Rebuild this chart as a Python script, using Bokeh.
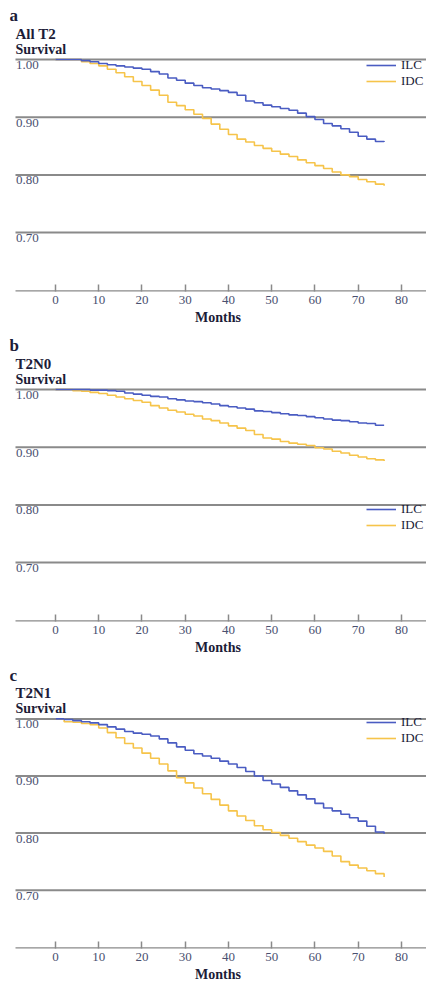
from bokeh.plotting import figure
from bokeh.layouts import column
from bokeh.models import Range1d, FixedTicker, Label, Legend, LegendItem
from bokeh.core.properties import value
from bokeh.embed import file_html
from bokeh.resources import INLINE

# ---------------- data ----------------
months = [0, 2, 4, 6, 8, 10, 12, 14, 16, 18, 20, 22, 24, 26, 28, 30, 32, 34, 36, 38,
          40, 42, 44, 46, 48, 50, 52, 54, 56, 58, 60, 62, 64, 66, 68, 70, 72, 74, 76]

a_ilc = [1.000, 1.000, 1.000, 0.998, 0.996, 0.993, 0.991, 0.989, 0.987, 0.985, 0.983,
         0.979, 0.975, 0.968, 0.964, 0.959, 0.955, 0.951, 0.949, 0.946, 0.943, 0.938,
         0.928, 0.925, 0.921, 0.918, 0.915, 0.912, 0.907, 0.901, 0.896, 0.889, 0.885,
         0.880, 0.874, 0.867, 0.862, 0.858, 0.857]
a_idc = [1.000, 1.000, 1.000, 0.996, 0.993, 0.989, 0.983, 0.977, 0.970, 0.962, 0.955,
         0.947, 0.938, 0.926, 0.920, 0.913, 0.905, 0.898, 0.888, 0.879, 0.870, 0.862,
         0.857, 0.851, 0.846, 0.841, 0.836, 0.832, 0.826, 0.821, 0.816, 0.811, 0.805,
         0.800, 0.797, 0.792, 0.788, 0.784, 0.781]

b_ilc = [1.000, 1.000, 1.000, 1.000, 0.999, 0.999, 0.998, 0.997, 0.994, 0.992, 0.990,
         0.988, 0.987, 0.984, 0.982, 0.980, 0.979, 0.977, 0.975, 0.972, 0.970, 0.968,
         0.966, 0.963, 0.962, 0.960, 0.958, 0.956, 0.955, 0.953, 0.951, 0.949, 0.947,
         0.946, 0.944, 0.942, 0.941, 0.938, 0.938]
b_idc = [1.000, 1.000, 0.998, 0.997, 0.995, 0.993, 0.990, 0.987, 0.984, 0.981, 0.978,
         0.972, 0.968, 0.964, 0.961, 0.957, 0.954, 0.949, 0.946, 0.942, 0.937, 0.933,
         0.929, 0.922, 0.916, 0.914, 0.910, 0.907, 0.905, 0.903, 0.899, 0.897, 0.893,
         0.890, 0.886, 0.883, 0.880, 0.878, 0.876]

c_ilc = [1.000, 0.999, 0.997, 0.995, 0.993, 0.990, 0.986, 0.982, 0.978, 0.975, 0.973,
         0.970, 0.965, 0.958, 0.951, 0.945, 0.939, 0.935, 0.931, 0.926, 0.921, 0.915,
         0.908, 0.900, 0.892, 0.886, 0.880, 0.874, 0.867, 0.860, 0.852, 0.844, 0.839,
         0.833, 0.827, 0.821, 0.812, 0.802, 0.799]
c_idc = [1.000, 0.995, 0.994, 0.992, 0.990, 0.984, 0.976, 0.967, 0.957, 0.949, 0.940,
         0.931, 0.921, 0.909, 0.897, 0.888, 0.879, 0.869, 0.859, 0.849, 0.839, 0.830,
         0.822, 0.813, 0.806, 0.801, 0.796, 0.791, 0.785, 0.779, 0.774, 0.768, 0.760,
         0.750, 0.744, 0.739, 0.734, 0.729, 0.723]

panel_letters = ["a", "b", "c"]
panel_titles = ["All T2", "T2N0", "T2N1"]
series_names = ["ILC", "IDC"]
x_ticks = [0, 10, 20, 30, 40, 50, 60, 70, 80]
y_ticks = [0.70, 0.80, 0.90, 1.00]
y_tick_labels = ["0.70", "0.80", "0.90", "1.00"]
x_label = "Months"
y_label = "Survival"

# ---------------- style ----------------
SERIF = "Liberation Serif"
BLUE = "#4a5cc2"
GOLD = "#f6c44a"
GRID = "#8a8a8a"
TICK_TXT = "#4a5070"
TITLE_TXT = "#1c1c38"

PX_PER_UNIT = 577.0
TOP_GAP = 59.0
FRAME_H = 291.0
LEFT = 9
X_PER_PX = 1 / 4.325
X0 = -40 * X_PER_PX - (15 - LEFT) * X_PER_PX - 0.0
X1 = 85.8
GRID_X0 = -40 * X_PER_PX  # where gridlines/axis start (15px from page edge)


def make_panel(letter, title, ilc, idc, height, legend_y):
    y_top = 1 + TOP_GAP / PX_PER_UNIT
    y_bot = 1 - (FRAME_H - TOP_GAP) / PX_PER_UNIT
    p = figure(width=426, height=height, x_range=Range1d(X0, X1),
               y_range=Range1d(y_bot, y_top), output_backend="svg",
               toolbar_location=None, min_border_left=LEFT, min_border_right=0,
               min_border_top=0, min_border_bottom=int(height - FRAME_H))
    p.outline_line_color = None
    p.background_fill_color = "white"
    p.border_fill_color = "white"

    p.yaxis.visible = False
    p.xgrid.visible = False
    p.ygrid.visible = False

    # horizontal reference lines at the y ticks, starting 15px from the page edge
    p.segment(x0=[GRID_X0] * len(y_ticks), x1=[X1] * len(y_ticks),
              y0=y_ticks, y1=y_ticks, line_color=GRID, line_width=2)
    # x axis base line
    p.segment(x0=[GRID_X0], x1=[X1], y0=[y_bot], y1=[y_bot],
              line_color=GRID, line_width=2.5)

    ax = p.xaxis[0]
    ax.ticker = FixedTicker(ticks=x_ticks)
    ax.axis_line_color = None
    ax.major_tick_in = 7
    ax.major_tick_out = 0
    ax.major_tick_line_color = GRID
    ax.major_tick_line_width = 1.5
    ax.minor_tick_line_color = None
    ax.major_label_text_font = SERIF
    ax.major_label_text_font_size = "13px"
    ax.major_label_text_color = TICK_TXT
    ax.major_label_standoff = 4
    ax.axis_label = x_label
    ax.axis_label_text_font = SERIF
    ax.axis_label_text_font_style = "bold"
    ax.axis_label_text_font_size = "14px"
    ax.axis_label_text_color = TITLE_TXT
    ax.axis_label_standoff = 3

    # y tick labels drawn under gridlines at the left edge
    p.text(x=[GRID_X0 + 0.1] * len(y_ticks), y=[v - 1.5 / PX_PER_UNIT for v in y_ticks],
           text=y_tick_labels, text_font=value(SERIF), text_font_size="13px",
           text_color=TICK_TXT, text_baseline="top", text_align="left")

    # curves
    r_idc = p.step(months, idc, mode="after", line_color=GOLD, line_width=1.6)
    r_ilc = p.step(months, ilc, mode="after", line_color=BLUE, line_width=1.6)

    def y_of(px):
        return 1 + (TOP_GAP - px) / PX_PER_UNIT
    p.add_layout(Label(x=X0, y=y_of(15), text=letter, text_font=SERIF,
                       text_font_style="bold", text_font_size="17px",
                       text_color=TITLE_TXT, text_baseline="middle"))
    p.add_layout(Label(x=GRID_X0, y=y_of(33), text=title, text_font=SERIF,
                       text_font_style="bold", text_font_size="15px",
                       text_color=TITLE_TXT, text_baseline="middle"))
    p.add_layout(Label(x=GRID_X0, y=y_of(49), text=y_label, text_font=SERIF,
                       text_font_style="bold", text_font_size="14px",
                       text_color=TITLE_TXT, text_baseline="middle"))

    legend = Legend(items=[LegendItem(label=series_names[0], renderers=[r_ilc]),
                           LegendItem(label=series_names[1], renderers=[r_idc])],
                    location=(366 - LEFT, legend_y), glyph_width=30, glyph_height=14,
                    label_height=14, spacing=0, padding=0, margin=0,
                    label_standoff=5, border_line_alpha=0,
                    background_fill_alpha=0, label_text_font=SERIF,
                    label_text_font_size="13px", label_text_color=TITLE_TXT)
    p.add_layout(legend)
    return p


pa = make_panel(panel_letters[0], panel_titles[0], a_ilc, a_idc, 330, 202)
pb = make_panel(panel_letters[1], panel_titles[1], b_ilc, b_idc, 330, 88)
pc = make_panel(panel_letters[2], panel_titles[2], c_ilc, c_idc, 324, 202)

layout = column(pa, pb, pc, spacing=0)
open("out.html", "w").write(file_html(layout, INLINE))
